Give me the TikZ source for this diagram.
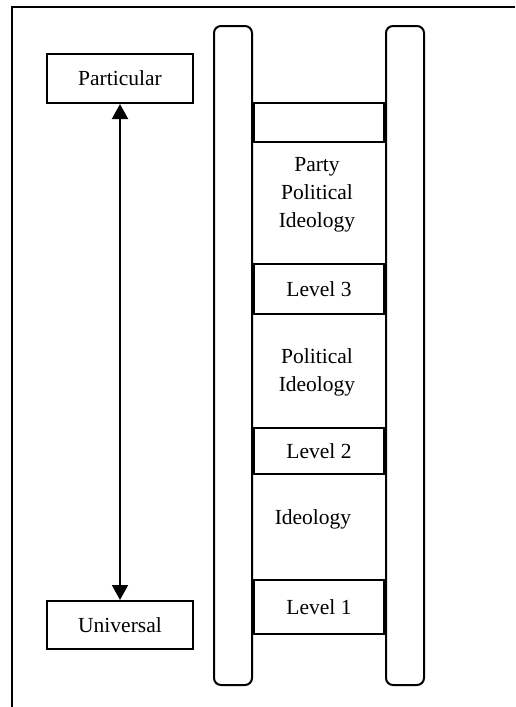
\documentclass[tikz,border=0pt]{standalone}
\usepackage{fontspec}
\setmainfont{Liberation Serif}
\usetikzlibrary{arrows.meta}
\begin{document}
\begin{tikzpicture}[x=1pt,y=-1pt,
  frame/.style={line width=1.5pt},
  rail/.style={line width=2pt, rounded corners=7pt},
  box/.style={draw, line width=2pt, fill=white, inner sep=0pt, align=center,
    font=\fontsize{21.5}{28}\selectfont},
  label/.style={inner sep=0pt, align=center, font=\fontsize{21.5}{28}\selectfont},
  link/.style={line width=2pt, {Triangle[length=15pt,width=16pt]}-{Triangle[length=15pt,width=16pt]}}]
  \useasboundingbox (0,0) rectangle (515,707);
  % outer frame
  \draw[frame] (515,7) -- (12,7) -- (12,707);
  % ladder rails
  \draw[rail] (214,26) rectangle (252,685);
  \draw[rail] (386,26) rectangle (424,685);
  % rungs
  \node[box, minimum width=130pt, minimum height=39pt] (rung0) at (319,122.5) {};
  \node[box, minimum width=130pt, minimum height=50pt] (rung3) at (319,289) {Level 3};
  \node[box, minimum width=130pt, minimum height=46pt] (rung2) at (319,451) {Level 2};
  \node[box, minimum width=130pt, minimum height=54pt] (rung1) at (319,607) {Level 1};
  % levels in between
  \node[label] (ppi) at (317,195) {Party\\Political\\Ideology};
  \node[label] (pi) at (317,372.5) {Political\\Ideology};
  \node[label] (ide) at (313,519) {Ideology};
  % scale from particular to universal
  \node[box, minimum width=146pt, minimum height=49pt] (particular) at (120,78.5) {Particular};
  \node[box, minimum width=146pt, minimum height=48pt] (universal) at (120,625) {Universal};
  \draw[link] (particular) -- (universal);
\end{tikzpicture}
\end{document}
